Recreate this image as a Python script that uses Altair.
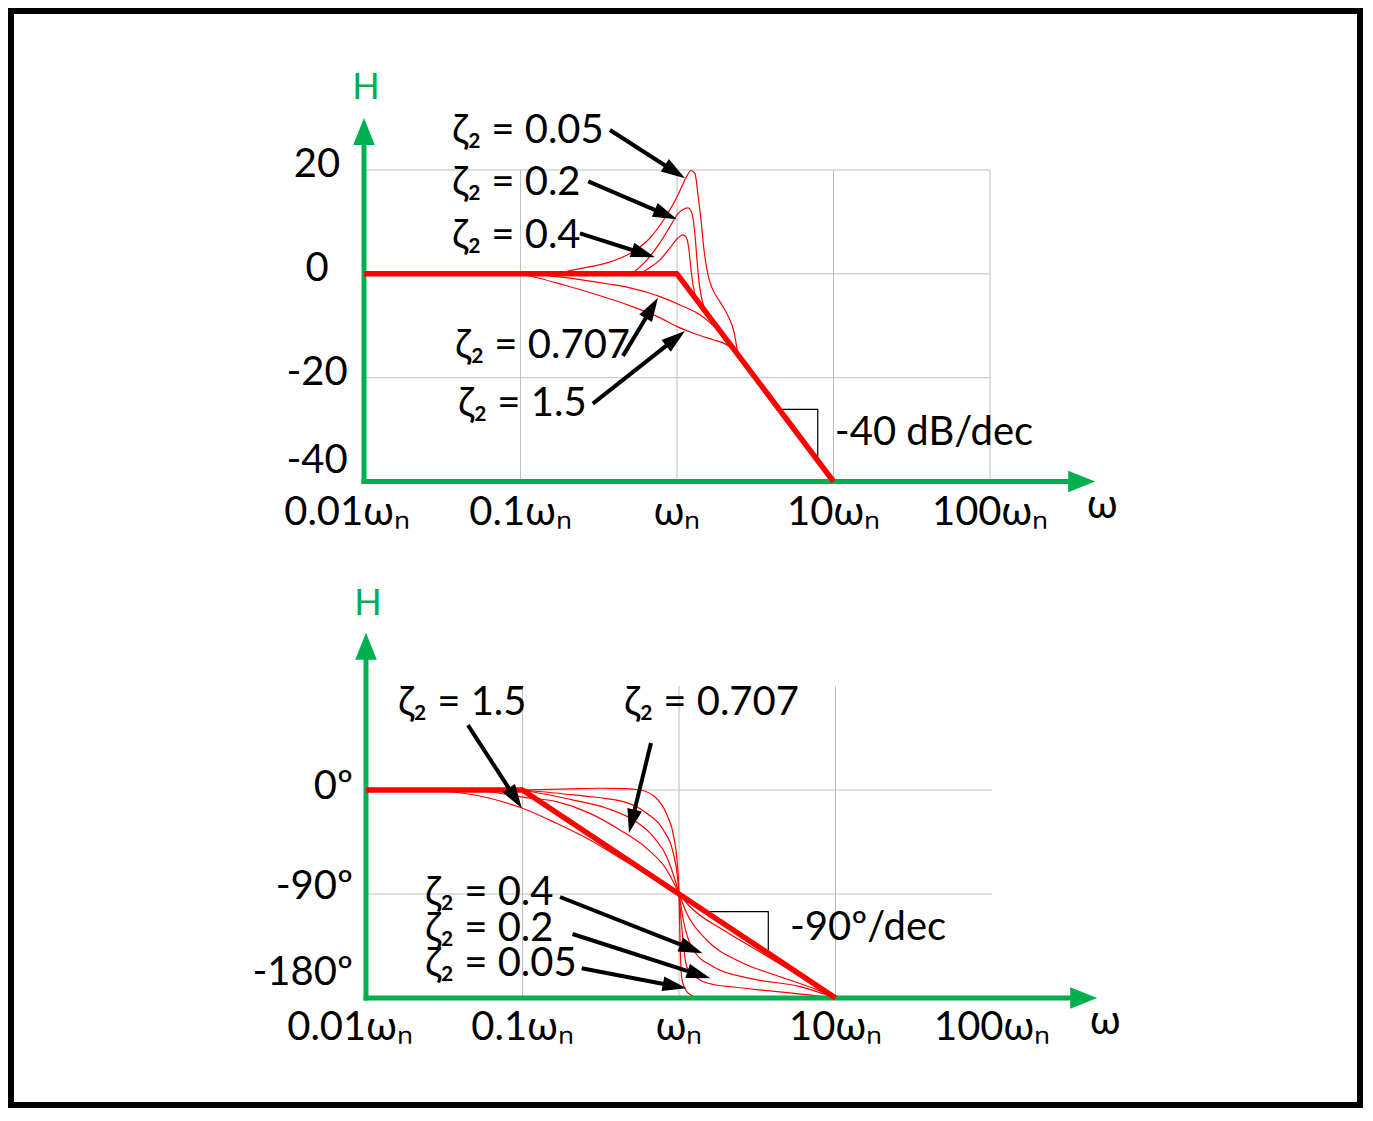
import math
import altair as alt
import pandas as pd

# ---------------- values ----------------
# frequency in multiples of wn, magnitude in dB, phase in degrees

FREQ_TICKS = [0.01, 0.1, 1, 10, 100]
FREQ_LABELS = ["0.01ωₙ", "0.1ωₙ", "ωₙ", "10ωₙ", "100ωₙ"]
MAG_TICKS = [20, 0, -20, -40]
MAG_TICK_LABELS = ["20", "0", "-20", "-40"]
PH_TICKS = [0, -90, -180]
PH_TICK_LABELS = ["0º", "-90º", "-180º"]

# magnitude panel
MAG_ASYM_W = [0.01, 1, 10]
MAG_ASYM_DB = [0, 0, -40]
MAG_005_W = [0.166, 0.240, 0.373, 0.501, 0.672, 0.838, 1.015, 1.142, 1.229, 1.303, 1.362, 1.423, 1.488, 1.578, 1.674, 1.883, 2.118, 2.313, 2.45]
MAG_005_DB = [0.0, 1.0, 2.3, 3.9, 6.9, 10.8, 15.2, 18.5, 19.9, 19.3, 15.2, 10.4, 4.6, -0.2, -2.7, -5.4, -8.1, -11.2, -15.6]
MAG_02_W = [0.516, 0.643, 0.779, 0.902, 1.015, 1.108, 1.176, 1.247, 1.303, 1.342, 1.382, 1.444, 1.54]
MAG_02_DB = [0.0, 2.7, 6.0, 9.1, 11.6, 12.5, 12.7, 11.6, 7.5, 2.7, -1.5, -5.0, -7.5]
MAG_04_W = [0.580, 0.672, 0.779, 0.902, 1.015, 1.092, 1.142, 1.193, 1.229, 1.265, 1.342]
MAG_04_DB = [0.0, 1.2, 2.7, 5.0, 6.9, 7.5, 7.1, 4.6, 0.8, -2.1, -5.1]
MAG_0707_W = [0.1, 0.154, 0.24, 0.373, 0.5, 0.65, 0.779, 1.045, 1.4, 1.625, 1.9, 2.2]
MAG_0707_DB = [0.0, -0.4, -1.1, -2.0, -2.7, -3.6, -4.4, -6.0, -7.9, -9.4, -11.5, -13.7]
MAG_15_W = [0.1, 0.13, 0.187, 0.27, 0.39, 0.55, 0.745, 1.045, 1.265, 1.7, 2.0, 2.3]
MAG_15_DB = [0.0, -0.8, -2.1, -3.5, -5.0, -6.6, -8.2, -10.4, -11.4, -12.7, -13.4, -14.5]

MAG_LABELS = ["ζ₂ = 0.05", "ζ₂ = 0.2", "ζ₂ = 0.4", "ζ₂ = 0.707", "ζ₂ = 1.5"]
MAG_LABEL_W = [0.0365, 0.0365, 0.0365, 0.0382, 0.0399]
MAG_LABEL_DB = [27.5, 17.5, 7.3, -13.9, -25.0]
MAG_ARROW_TAIL_W = [0.373, 0.271, 0.240, 0.452, 0.290]
MAG_ARROW_TAIL_DB = [27.7, 17.8, 7.8, -15.8, -25.0]
MAG_ARROW_TIP_W = [1.125, 0.998, 0.723, 0.756, 1.125]
MAG_ARROW_TIP_DB = [18.4, 10.5, 3.2, -4.6, -11.0]
MAG_SLOPE_W = [4.48, 7.93, 7.93]
MAG_SLOPE_DB = [-26.1, -26.1, -36.0]
MAG_SLOPE_TEXT = ["-40 dB/dec"]
MAG_SLOPE_TEXT_W = [10.2]
MAG_SLOPE_TEXT_DB = [-30.6]
MAG_AXIS_TOP = 30.0

# phase panel
PH_ASYM_W = [0.01, 0.1, 10]
PH_ASYM_DEG = [0, 0, -180]
PH_005_W = [0.1, 0.2, 0.313, 0.45, 0.563, 0.703, 0.838, 0.929, 0.971, 1.0, 1.015, 1.045, 1.142, 1.362, 3.29, 10]
PH_005_DEG = [0, 1.0, 1.5, 1.2, 0, -6.1, -21.6, -41.5, -60.6, -90, -129.8, -164.4, -175.7, -180, -179.2, -180]
PH_02_W = [0.1, 0.211, 0.441, 0.622, 0.794, 0.920, 0.975, 1.0, 1.045, 1.12, 1.362, 1.698, 2.21, 3.29, 5.12, 10]
PH_02_DEG = [0, -4.3, -10.1, -20.2, -34.6, -54.8, -73.6, -90, -121.1, -152.9, -164.4, -168.5, -170.5, -173.0, -175.5, -180]
PH_04_W = [0.1, 0.211, 0.345, 0.511, 0.685, 0.835, 0.943, 1.0, 1.065, 1.234, 1.657, 2.84, 5.93, 10]
PH_04_DEG = [0, -8.7, -15.8, -26.0, -40.4, -57.7, -77.9, -90, -112.5, -138.5, -152.9, -163.0, -170.2, -180]
PH_0707_W = [0.054, 0.1, 0.165, 0.270, 0.420, 0.622, 0.835, 1.0, 1.12, 1.503, 2.454, 4.42, 7.21, 10]
PH_0707_DEG = [0, -6.1, -10.1, -20.2, -34.6, -50.5, -69.2, -90, -106.7, -129.8, -148.6, -161.6, -171.6, -180]
PH_15_W = [0.0276, 0.0535, 0.1, 0.165, 0.270, 0.441, 0.720, 1.0, 1.176, 1.919, 3.14, 5.12, 7.96, 10]
PH_15_DEG = [0, -5.2, -15.8, -28.8, -43.3, -60.6, -77.9, -90, -101.0, -121.2, -138.5, -155.8, -170.2, -180]

PH_LABELS = ["ζ₂ = 1.5", "ζ₂ = 0.707", "ζ₂ = 0.4", "ζ₂ = 0.2", "ζ₂ = 0.05"]
PH_LABEL_W = [0.0160, 0.445, 0.0238, 0.0238, 0.0238]
PH_LABEL_DEG = [75.3, 75.3, -89.1, -120.3, -150.6]
PH_ARROW_TAIL_W = [0.0448, 0.662, 0.1737, 0.2087, 0.2389]
PH_ARROW_TAIL_DEG = [56.2, 40.7, -92.6, -124.6, -154.3]
PH_ARROW_TIP_W = [0.099, 0.479, 1.415, 1.589, 1.117]
PH_ARROW_TIP_DEG = [-15.8, -37.2, -141.3, -163.0, -171.6]
PH_SLOPE_W = [1.48, 3.72, 3.72]
PH_SLOPE_DEG = [-105.3, -105.3, -141.3]
PH_SLOPE_TEXT = ["-90º/dec"]
PH_SLOPE_TEXT_W = [5.12]
PH_SLOPE_TEXT_DEG = [-119.4]
PH_AXIS_TOP = 136.0

AXIS_TIP_W = 470.0

# ---------------- layout / style ----------------
W, H = 1355, 1100
DECADE_PX = 156.5
FONT = "Lato"
FS = 40
RED = "#FF0000"
GREEN = "#00B050"
GRIDC = "#BFBFBF"


def xdom(wn_px):
    return [10 ** (-wn_px / DECADE_PX), 10 ** ((W - wn_px) / DECADE_PX)]


XDOM = {"mag": xdom(669.0), "ph": xdom(671.0)}
_mp = (473.5 - 162.0) / 60.0
_pp = (990.0 - 782.0) / 180.0
YDOM = {
    "mag": [-40 - (H - 473.5) / _mp, 20 + 162.0 / _mp],
    "ph": [-180 - (H - 990.0) / _pp, 782.0 / _pp],
}


def to_px(panel, w, v):
    lo, hi = (math.log10(d) for d in XDOM[panel])
    ylo, yhi = YDOM[panel]
    return (math.log10(w) - lo) / (hi - lo) * W, (yhi - v) / (yhi - ylo) * H


def from_px(panel, x, y):
    lo, hi = (math.log10(d) for d in XDOM[panel])
    ylo, yhi = YDOM[panel]
    return 10 ** (lo + x / W * (hi - lo)), yhi - y / H * (yhi - ylo)


def xe(panel, f="w"):
    return alt.X(f"{f}:Q", scale=alt.Scale(type="log", domain=XDOM[panel], nice=False), axis=None)


def ye(panel, f="v"):
    return alt.Y(f"{f}:Q", scale=alt.Scale(domain=YDOM[panel], nice=False, zero=False), axis=None)


def segs(panel, w, v, w2, v2, color, width, cap="butt"):
    df = pd.DataFrame({"w": w, "v": v, "w2": w2, "v2": v2})
    return alt.Chart(df).mark_rule(color=color, strokeWidth=width, strokeCap=cap).encode(
        x=xe(panel), y=ye(panel), x2=alt.X2("w2:Q"), y2=alt.Y2("v2:Q"))


def curve(panel, w, v, color, width, interp="monotone"):
    df = pd.DataFrame({"w": w, "v": v, "i": list(range(len(w)))})
    return alt.Chart(df).mark_line(color=color, strokeWidth=width, interpolate=interp,
                                   strokeJoin="round").encode(
        x=xe(panel), y=ye(panel), order="i:Q")


def texts(panel, w, v, t, align="left", dx=0, dy=0, size=FS, color="black"):
    df = pd.DataFrame({"w": w, "v": v, "t": t})
    return alt.Chart(df).mark_text(align=align, baseline="middle", dx=dx, dy=dy, fontSize=size,
                                   font=FONT, color=color).encode(
        x=xe(panel), y=ye(panel), text="t:N")


HEAD = "M0,0 L0.62,2 L-0.62,2 Z"
GHEAD = "M0,0 L0.8,2 L-0.8,2 Z"


def heads(panel, w, v, ang, color, size, shape):
    df = pd.DataFrame({"w": w, "v": v, "a": ang})
    return alt.Chart(df).mark_point(shape=shape, filled=True, size=size, color=color, opacity=1,
                                    strokeWidth=0).encode(
        x=xe(panel), y=ye(panel), angle=alt.Angle("a:Q", scale=None))


def arrows(panel, tw, tv, hw, hv):
    sw, sv, ang = [], [], []
    for a, b, c, d in zip(tw, tv, hw, hv):
        x0, y0 = to_px(panel, a, b)
        x1, y1 = to_px(panel, c, d)
        L = math.hypot(x1 - x0, y1 - y0)
        f = max(0.0, 1 - 14.0 / L)
        ex, ey = from_px(panel, x0 + f * (x1 - x0), y0 + f * (y1 - y0))
        sw.append(ex)
        sv.append(ey)
        ang.append(math.degrees(math.atan2(x1 - x0, -(y1 - y0))) % 360)
    return [segs(panel, tw, tv, sw, sv, "black", 4),
            heads(panel, hw, hv, ang, "black", 576, HEAD)]


def green_axes(panel, ybottom, ytop):
    # shaft ends a bit before the tips
    xt, yb = to_px(panel, AXIS_TIP_W, ybottom)
    xend, _ = from_px(panel, xt - 18, yb)
    x0, yt = to_px(panel, 0.01, ytop)
    _, yend = from_px(panel, x0, yt + 18)
    return [
        segs(panel, [0.01], [ybottom], [xend], [ybottom], GREEN, 5, "square"),
        segs(panel, [0.01], [ybottom], [0.01], [yend], GREEN, 5, "square"),
        heads(panel, [AXIS_TIP_W], [ybottom], [90], GREEN, 729, GHEAD),
        heads(panel, [0.01], [ytop], [0], GREEN, 729, GHEAD),
    ]


layers = []

# ---------- magnitude panel ----------
P = "mag"
layers.append(segs(P, FREQ_TICKS[1:], [-40] * 4, FREQ_TICKS[1:], [20] * 4, GRIDC, 1))
layers.append(segs(P, [0.01] * 3, MAG_TICKS[:3], [100] * 3, MAG_TICKS[:3], GRIDC, 1))
for cw, cv in [(MAG_005_W, MAG_005_DB), (MAG_02_W, MAG_02_DB), (MAG_04_W, MAG_04_DB),
               (MAG_0707_W, MAG_0707_DB), (MAG_15_W, MAG_15_DB)]:
    layers.append(curve(P, cw, cv, RED, 1.2))
layers.append(curve(P, MAG_SLOPE_W, MAG_SLOPE_DB, "black", 1.2, "linear"))
layers += green_axes(P, -40, MAG_AXIS_TOP)
layers.append(curve(P, MAG_ASYM_W, MAG_ASYM_DB, RED, 5.5, "linear"))
layers += arrows(P, MAG_ARROW_TAIL_W, MAG_ARROW_TAIL_DB, MAG_ARROW_TIP_W, MAG_ARROW_TIP_DB)
layers.append(texts(P, MAG_LABEL_W, MAG_LABEL_DB, MAG_LABELS))
layers.append(texts(P, MAG_SLOPE_TEXT_W, MAG_SLOPE_TEXT_DB, MAG_SLOPE_TEXT))
layers.append(texts(P, [0.01] * 3, MAG_TICKS[:3], MAG_TICK_LABELS[:3], "center", dx=-47, dy=-5))
layers.append(texts(P, [0.01], MAG_TICKS[3:], MAG_TICK_LABELS[3:], "center", dx=-47, dy=-21))
layers.append(texts(P, FREQ_TICKS[:1], [-40], FREQ_LABELS[:1], "center", dx=-17, dy=31))
layers.append(texts(P, FREQ_TICKS[1:], [-40] * 4, FREQ_LABELS[1:], "center", dy=31))
layers.append(texts(P, [AXIS_TIP_W], [-40], ["ω"], "center", dx=7, dy=24))
layers.append(texts(P, [0.01], [MAG_AXIS_TOP], ["H"], "center", dx=2, dy=-30, size=36, color=GREEN))

# ---------- phase panel ----------
P = "ph"
layers.append(segs(P, FREQ_TICKS[1:4], [-180] * 3, FREQ_TICKS[1:4], [90] * 3, GRIDC, 1))
layers.append(segs(P, [0.01] * 2, PH_TICKS[:2], [100] * 2, PH_TICKS[:2], GRIDC, 1))
for cw, cv in [(PH_005_W, PH_005_DEG), (PH_02_W, PH_02_DEG), (PH_04_W, PH_04_DEG),
               (PH_0707_W, PH_0707_DEG), (PH_15_W, PH_15_DEG)]:
    layers.append(curve(P, cw, cv, RED, 1.2))
layers.append(curve(P, PH_SLOPE_W, PH_SLOPE_DEG, "black", 1.2, "linear"))
layers += green_axes(P, -180, PH_AXIS_TOP)
layers.append(curve(P, PH_ASYM_W, PH_ASYM_DEG, RED, 5.5, "linear"))
layers += arrows(P, PH_ARROW_TAIL_W, PH_ARROW_TAIL_DEG, PH_ARROW_TIP_W, PH_ARROW_TIP_DEG)
layers.append(texts(P, PH_LABEL_W, PH_LABEL_DEG, PH_LABELS))
layers.append(texts(P, PH_SLOPE_TEXT_W, PH_SLOPE_TEXT_DEG, PH_SLOPE_TEXT))
layers.append(texts(P, [0.01], PH_TICKS[:1], PH_TICK_LABELS[:1], "right", dx=-13, dy=-3))
layers.append(texts(P, [0.01], PH_TICKS[1:2], PH_TICK_LABELS[1:2], "right", dx=-13, dy=-7))
layers.append(texts(P, [0.01], PH_TICKS[2:], PH_TICK_LABELS[2:], "right", dx=-13, dy=-25))
layers.append(texts(P, FREQ_TICKS[:1], [-180], FREQ_LABELS[:1], "center", dx=-16, dy=30))
layers.append(texts(P, FREQ_TICKS[1:], [-180] * 4, FREQ_LABELS[1:], "center", dy=30))
layers.append(texts(P, [AXIS_TIP_W], [-180], ["ω"], "center", dx=8, dy=24))
layers.append(texts(P, [0.01], [PH_AXIS_TOP], ["H"], "center", dx=2, dy=-29, size=36, color=GREEN))

# ---------- frame ----------
frame = alt.Chart(pd.DataFrame({"k": [0]})).mark_rect(
    fillOpacity=0, stroke="black", strokeWidth=12).encode(
    x=alt.value(0), x2=alt.value(W), y=alt.value(0), y2=alt.value(H))
layers.append(frame)

chart = alt.layer(*layers).resolve_scale(x="independent", y="independent").properties(
    width=W, height=H, autosize=alt.AutoSizeParams(type="none"), padding=0,
    background="white").configure_view(stroke=None)

chart.save("out.html", embed_options={"renderer": "svg", "actions": False})
